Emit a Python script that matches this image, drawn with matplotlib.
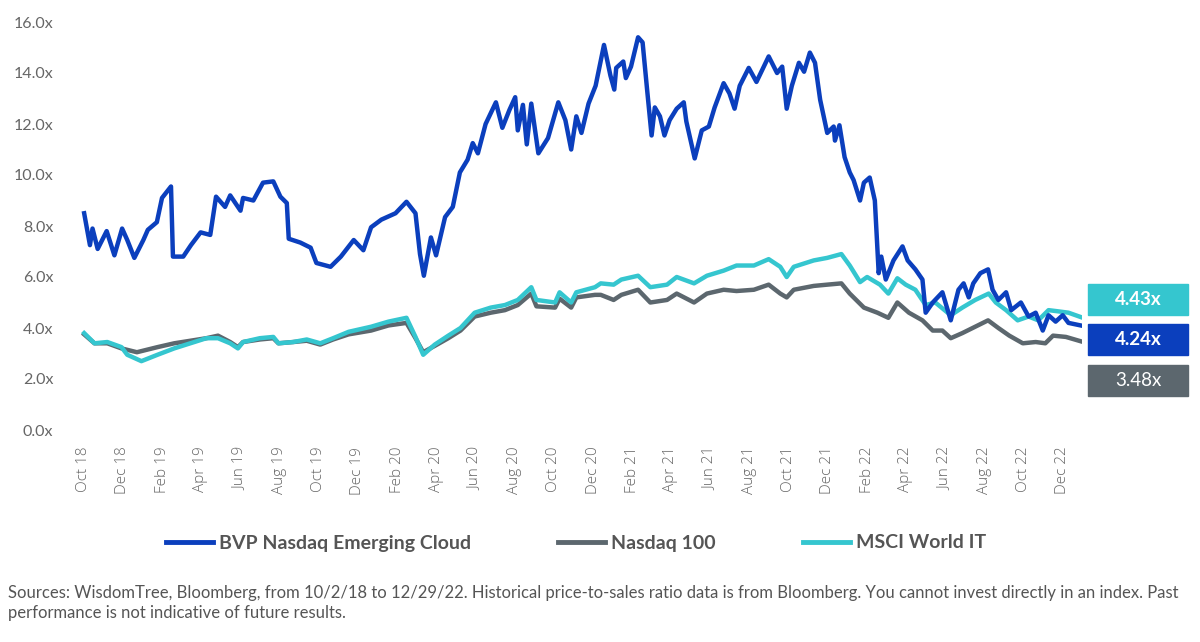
import matplotlib.pyplot as plt
import pandas as pd
from matplotlib.patches import Rectangle

# Price-to-sales ratios
bvp_dates = [
    "2018-10-02", "2018-10-11", "2018-10-15", "2018-10-23", "2018-11-06", "2018-11-18",
    "2018-11-30", "2018-12-08", "2018-12-19", "2019-01-02", "2019-01-09", "2019-01-23",
    "2019-01-31", "2019-02-14", "2019-02-17", "2019-03-05", "2019-03-17", "2019-04-01",
    "2019-04-16", "2019-04-25", "2019-05-09", "2019-05-17", "2019-06-02", "2019-06-06",
    "2019-06-22", "2019-07-07", "2019-07-23", "2019-08-03", "2019-08-13", "2019-08-16",
    "2019-09-03", "2019-09-19", "2019-09-28", "2019-10-20", "2019-11-05", "2019-11-25",
    "2019-12-10", "2019-12-22", "2020-01-07", "2020-01-29", "2020-02-15", "2020-02-29",
    "2020-03-07", "2020-03-13", "2020-03-24", "2020-04-01", "2020-04-15", "2020-04-27",
    "2020-05-08", "2020-05-20", "2020-05-28", "2020-06-05", "2020-06-17", "2020-07-03",
    "2020-07-13", "2020-07-24", "2020-08-02", "2020-08-06", "2020-08-14", "2020-08-20",
    "2020-08-27", "2020-09-07", "2020-09-22", "2020-10-08", "2020-10-19", "2020-10-28",
    "2020-11-05", "2020-11-13", "2020-11-24", "2020-12-05", "2020-12-18", "2020-12-28",
    "2021-01-03", "2021-01-06", "2021-01-17", "2021-01-21", "2021-01-29", "2021-02-09",
    "2021-02-16", "2021-02-23", "2021-03-02", "2021-03-07", "2021-03-15", "2021-03-22",
    "2021-03-30", "2021-04-10", "2021-04-21", "2021-04-25", "2021-05-08", "2021-05-19",
    "2021-05-30", "2021-06-08", "2021-06-22", "2021-07-01", "2021-07-09", "2021-07-17",
    "2021-07-31", "2021-08-12", "2021-08-31", "2021-09-13", "2021-09-21", "2021-09-28",
    "2021-10-06", "2021-10-17", "2021-10-25", "2021-11-03", "2021-11-11", "2021-11-19",
    "2021-11-30", "2021-12-10", "2021-12-12", "2021-12-19", "2021-12-27", "2022-01-04",
    "2022-01-10", "2022-01-20", "2022-01-26", "2022-02-04", "2022-02-12", "2022-02-18",
    "2022-02-22", "2022-03-01", "2022-03-13", "2022-03-27", "2022-04-04", "2022-04-16",
    "2022-04-27", "2022-05-02", "2022-05-13", "2022-05-28", "2022-06-10", "2022-06-22",
    "2022-06-30", "2022-07-08", "2022-07-15", "2022-07-26", "2022-08-07", "2022-08-14",
    "2022-08-23", "2022-09-04", "2022-09-12", "2022-09-27", "2022-10-09", "2022-10-20",
    "2022-10-31", "2022-11-09", "2022-11-20", "2022-12-01", "2022-12-10", "2022-12-29",
]
bvp_values = [
    8.5, 7.25, 7.9, 7.1, 7.8, 6.85,
    7.9, 7.45, 6.75, 7.45, 7.85, 8.15,
    9.1, 9.55, 6.8, 6.8, 7.25, 7.75,
    7.65, 9.15, 8.75, 9.2, 8.6, 9.1,
    9.0, 9.7, 9.75, 9.15, 8.9, 7.5,
    7.35, 7.15, 6.55, 6.4, 6.8, 7.45,
    7.05, 7.95, 8.25, 8.5, 8.95, 8.5,
    6.9, 6.05, 7.55, 6.85, 8.35, 8.75,
    10.1, 10.6, 11.25, 10.85, 12.0, 12.85,
    11.85, 12.55, 13.05, 11.75, 12.75, 11.2,
    12.8, 10.85, 11.45, 12.85, 12.15, 11.0,
    12.3, 11.65, 12.8, 13.5, 15.1, 13.9,
    13.35, 14.2, 14.45, 13.8, 14.25, 15.4,
    15.2, 13.35, 11.55, 12.65, 12.3, 11.55,
    12.15, 12.6, 12.85, 12.1, 10.65, 11.75,
    11.9, 12.65, 13.6, 13.2, 12.6, 13.5,
    14.2, 13.65, 14.65, 14.0, 14.25, 12.6,
    13.5, 14.4, 14.05, 14.8, 14.4, 12.95,
    11.65, 11.9, 11.35, 11.95, 10.7, 10.1,
    9.8, 9.0, 9.7, 9.9, 9.0, 6.15,
    6.8, 5.9, 6.65, 7.2, 6.65, 6.3,
    5.9, 4.6, 5.0, 5.4, 4.3, 5.5,
    5.75, 5.2, 5.75, 6.15, 6.3, 5.5,
    5.1, 5.4, 4.7, 5.0, 4.45, 4.6,
    3.9, 4.5, 4.25, 4.5, 4.2, 4.1,
]

msci_dates = [
    "2018-10-02", "2018-10-18", "2018-11-07", "2018-11-29", "2018-12-08", "2018-12-30",
    "2019-01-24", "2019-02-19", "2019-03-16", "2019-04-10", "2019-04-28", "2019-05-17",
    "2019-05-29", "2019-06-06", "2019-07-02", "2019-07-23", "2019-07-31", "2019-08-23",
    "2019-09-13", "2019-10-04", "2019-10-24", "2019-11-17", "2019-12-22", "2020-01-18",
    "2020-02-15", "2020-02-29", "2020-03-12", "2020-03-30", "2020-04-20", "2020-05-09",
    "2020-05-31", "2020-06-25", "2020-07-17", "2020-08-06", "2020-08-27", "2020-09-04",
    "2020-10-03", "2020-10-10", "2020-10-28", "2020-11-05", "2020-12-04", "2020-12-13",
    "2021-01-02", "2021-01-14", "2021-02-09", "2021-02-28", "2021-03-26", "2021-04-10",
    "2021-05-07", "2021-05-27", "2021-06-22", "2021-07-12", "2021-08-08", "2021-08-31",
    "2021-09-18", "2021-09-28", "2021-10-09", "2021-11-09", "2021-11-30", "2021-12-22",
    "2022-01-04", "2022-01-20", "2022-01-31", "2022-02-20", "2022-03-05", "2022-03-19",
    "2022-04-01", "2022-04-16", "2022-05-02", "2022-05-17", "2022-06-10", "2022-06-28",
    "2022-07-18", "2022-08-08", "2022-08-19", "2022-09-04", "2022-09-22", "2022-10-09",
    "2022-10-24", "2022-11-09", "2022-11-25", "2022-12-10", "2022-12-29",
]
msci_values = [
    3.8, 3.4, 3.45, 3.25, 2.95, 2.7,
    2.95, 3.2, 3.4, 3.6, 3.6, 3.4,
    3.2, 3.45, 3.6, 3.65, 3.4, 3.45,
    3.55, 3.4, 3.6, 3.85, 4.05, 4.25,
    4.4, 3.65, 2.95, 3.35, 3.7, 4.0,
    4.6, 4.8, 4.9, 5.1, 5.6, 5.1,
    5.0, 5.4, 5.0, 5.4, 5.6, 5.75,
    5.7, 5.9, 6.05, 5.6, 5.7, 6.0,
    5.75, 6.05, 6.25, 6.45, 6.45, 6.7,
    6.4, 6.0, 6.4, 6.65, 6.75, 6.9,
    6.45, 5.8, 6.0, 5.7, 5.35, 5.95,
    5.7, 5.5, 4.9, 5.0, 4.5, 4.8,
    5.1, 5.35, 5.0, 4.7, 4.3, 4.45,
    4.3, 4.7, 4.65, 4.6, 4.43,
]

ndx_dates = [
    "2018-10-02", "2018-10-18", "2018-11-07", "2018-11-29", "2018-12-23", "2019-01-24",
    "2019-02-19", "2019-03-16", "2019-04-10", "2019-04-28", "2019-05-17", "2019-05-29",
    "2019-06-06", "2019-07-02", "2019-07-23", "2019-07-31", "2019-08-23", "2019-09-13",
    "2019-10-04", "2019-10-24", "2019-11-17", "2019-12-22", "2020-01-18", "2020-02-15",
    "2020-02-29", "2020-03-12", "2020-03-30", "2020-04-20", "2020-05-09", "2020-05-31",
    "2020-06-25", "2020-07-17", "2020-08-06", "2020-08-27", "2020-09-04", "2020-10-03",
    "2020-10-10", "2020-10-28", "2020-11-05", "2020-12-04", "2020-12-13", "2021-01-02",
    "2021-01-14", "2021-02-09", "2021-02-28", "2021-03-26", "2021-04-10", "2021-05-07",
    "2021-05-27", "2021-06-22", "2021-07-12", "2021-08-08", "2021-08-31", "2021-09-18",
    "2021-09-28", "2021-10-09", "2021-11-09", "2021-11-30", "2021-12-22", "2022-01-04",
    "2022-01-26", "2022-02-16", "2022-03-05", "2022-03-19", "2022-04-06", "2022-04-27",
    "2022-05-13", "2022-05-28", "2022-06-10", "2022-06-28", "2022-07-18", "2022-08-07",
    "2022-08-23", "2022-09-09", "2022-09-30", "2022-10-20", "2022-11-04", "2022-11-16",
    "2022-12-06", "2022-12-29",
]
ndx_values = [
    3.75, 3.4, 3.4, 3.2, 3.05, 3.25,
    3.4, 3.5, 3.6, 3.7, 3.45, 3.25,
    3.45, 3.55, 3.6, 3.4, 3.45, 3.5,
    3.35, 3.55, 3.75, 3.9, 4.1, 4.2,
    3.6, 3.05, 3.3, 3.6, 3.9, 4.45,
    4.6, 4.7, 4.9, 5.35, 4.85, 4.8,
    5.15, 4.8, 5.2, 5.3, 5.3, 5.1,
    5.3, 5.5, 5.0, 5.1, 5.35, 5.0,
    5.35, 5.5, 5.45, 5.5, 5.7, 5.35,
    5.2, 5.5, 5.65, 5.7, 5.75, 5.35,
    4.8, 4.6, 4.4, 5.0, 4.6, 4.3,
    3.9, 3.9, 3.6, 3.8, 4.05, 4.3,
    4.0, 3.7, 3.4, 3.45, 3.4, 3.7,
    3.65, 3.48,
]

series_names = ["BVP Nasdaq Emerging Cloud", "Nasdaq 100", "MSCI World IT"]
colors = {"BVP Nasdaq Emerging Cloud": "#0b3fbd",
          "Nasdaq 100": "#5c676e",
          "MSCI World IT": "#35c6cf"}

# latest values shown in the boxes on the right (top to bottom)
last_names = ["MSCI World IT", "BVP Nasdaq Emerging Cloud", "Nasdaq 100"]
last_values = [4.43, 4.24, 3.48]
last_bold = [True, True, False]

source_note = ("Sources: WisdomTree, Bloomberg, from 10/2/18 to 12/29/22. Historical price-to-sales ratio "
               "data is from Bloomberg. You cannot invest directly in an index. Past\n"
               "performance is not indicative of future results.")

plt.rcParams['font.family'] = ['Lato', 'DejaVu Sans']

fig = plt.figure(figsize=(12, 6.42), dpi=100)
ax = fig.add_axes([70 / 1200, 1 - 430 / 642, 1012 / 1200, 408 / 642])

lines = {}
lines["BVP Nasdaq Emerging Cloud"] = ax.plot(pd.to_datetime(bvp_dates), bvp_values, lw=3.2,
                                             color=colors["BVP Nasdaq Emerging Cloud"], zorder=3)[0]
lines["Nasdaq 100"] = ax.plot(pd.to_datetime(ndx_dates), ndx_values, lw=3.2,
                              color=colors["Nasdaq 100"], zorder=2)[0]
lines["MSCI World IT"] = ax.plot(pd.to_datetime(msci_dates), msci_values, lw=3.2,
                                 color=colors["MSCI World IT"], zorder=2.5)[0]

ax.set_ylim(0, 16)
ax.set_xlim(pd.Timestamp("2018-09-10"), pd.Timestamp("2022-12-31"))
ax.set_yticks(range(0, 17, 2))
ax.yaxis.set_major_formatter(plt.FuncFormatter(lambda v, p: f"{v:.1f}x"))

xticks = pd.date_range("2018-10-01", "2022-12-01", freq="2MS")
ax.set_xticks(xticks)
ax.set_xticklabels([d.strftime("%b %y") for d in xticks], rotation=90,
                   family=['Open Sans', 'DejaVu Sans'], fontweight='light')

ax.tick_params(axis='y', length=0, pad=12, labelsize=11.5, labelcolor='#666666')
ax.tick_params(axis='x', length=0, pad=12, labelsize=11, labelcolor='#666666')
for s in ax.spines.values():
    s.set_visible(False)

# value boxes on the right
box_tops = [284, 324, 365]
for name, val, bold, top in zip(last_names, last_values, last_bold, box_tops):
    y0 = 1 - (top + 31) / 642
    fig.patches.append(Rectangle((1088 / 1200, y0), 100 / 1200, 31 / 642,
                                 transform=fig.transFigure, color=colors[name]))
    fig.text(1138 / 1200, y0 + 15.5 / 642, f"{val:.2f}x", color='white', fontsize=13.5,
             fontweight='bold' if bold else 'normal', ha='center', va='center')

leg = fig.legend([lines[n] for n in series_names], series_names, loc='center',
                 bbox_to_anchor=(0.48, 1 - 543 / 642), ncol=3, frameon=False,
                 handlelength=2.4, handletextpad=0.3, columnspacing=4.5,
                 prop={'weight': 'bold', 'size': 14})
for t in leg.get_texts():
    t.set_color('#555555')
for h in leg.legend_handles:
    h.set_linewidth(3.5)

fig.text(8 / 1200, 1 - 603 / 642, source_note, fontsize=12, color='#555555',
         va='center', linespacing=1.35)

fig.savefig("out.png", dpi=100)
